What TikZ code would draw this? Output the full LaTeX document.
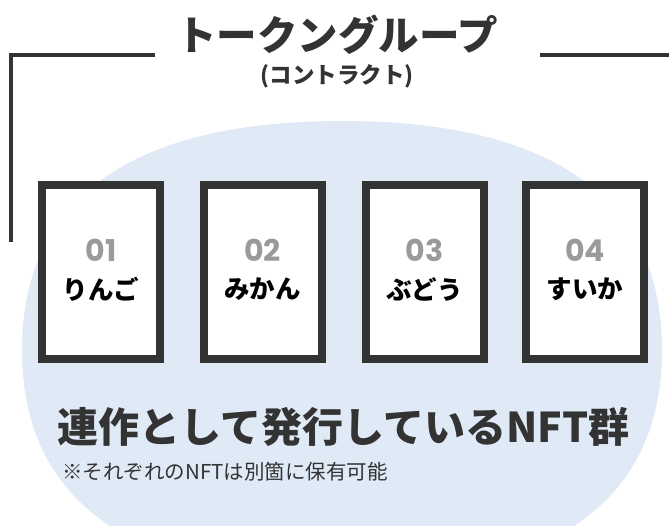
\documentclass[tikz,border=0pt]{standalone}
\usepackage{fontspec}
\newfontfamily\jp{Noto Sans CJK JP}
\newfontfamily\numf{Poppins}
\definecolor{ink}{HTML}{333333}
\definecolor{blob}{HTML}{DFEAF6}
\definecolor{numgray}{HTML}{9A9A9A}
\tikzset{
  card/.style={draw=ink, line width=8pt, fill=white, minimum width=118pt, minimum height=174pt, inner sep=0pt},
  cardnum/.style={text=numgray, font=\numf\bfseries\fontsize{30}{32}\selectfont, inner sep=0pt},
  cardname/.style={text=black, font=\jp\bfseries\fontsize{25.5}{27}\selectfont, inner sep=0pt},
  bracket/.style={draw=ink, line width=3.5pt},
}
\begin{document}
\begin{tikzpicture}[x=1pt,y=-1pt]
\useasboundingbox (0,0) rectangle (669,525);
\begin{scope}
\clip (0,0) rectangle (669,525);
\fill[blob] (22,350) .. controls (22,199) and (131,121) .. (342,121)
  .. controls (553,121) and (662,199) .. (662,350)
  .. controls (662,501) and (553,579) .. (342,579)
  .. controls (131,579) and (22,501) .. (22,350) -- cycle;
\end{scope}
% bracket
\coordinate (bl) at (11,242);
\coordinate (tlr) at (155,55);
\coordinate (trl) at (540,55);
\coordinate (trr) at (669,55);
\draw[bracket] (bl) |- (tlr);
\draw[bracket] (trl) -- (trr);
% title
\node[text=ink, font=\jp\bfseries\fontsize{40.5}{42}\selectfont, inner sep=0pt] (title) at (337,35) {トークングループ};
\node[text=ink, font=\jp\bfseries\fontsize{22.5}{24}\selectfont, inner sep=0pt] (subtitle) at (337,76) {(コントラクト)};
% cards
\node[card] (c1) at (101,272) {};
\node[card] (c2) at (262.5,272) {};
\node[card] (c3) at (424.5,272) {};
\node[card] (c4) at (585,272) {};
\node[cardnum] (n1) at (101,250) {01};
\node[cardnum] (n2) at (262.5,250) {02};
\node[cardnum] (n3) at (424.5,250) {03};
\node[cardnum] (n4) at (585,250) {04};
\node[cardname] (t1) at (101,289) {りんご};
\node[cardname] (t2) at (262.5,289) {みかん};
\node[cardname] (t3) at (424.5,289) {ぶどう};
\node[cardname] (t4) at (585,289) {すいか};
% bottom texts
\node[text=ink, font=\jp\bfseries\fontsize{41}{43}\selectfont, inner sep=0pt] (main) at (343.5,427) {連作として発行しているNFT群};
\node[text=ink, font=\jp\fontsize{20.5}{22}\selectfont, inner sep=0pt, anchor=west] (note) at (62,472) {※それぞれのNFTは別箇に保有可能};
\end{tikzpicture}
\end{document}
